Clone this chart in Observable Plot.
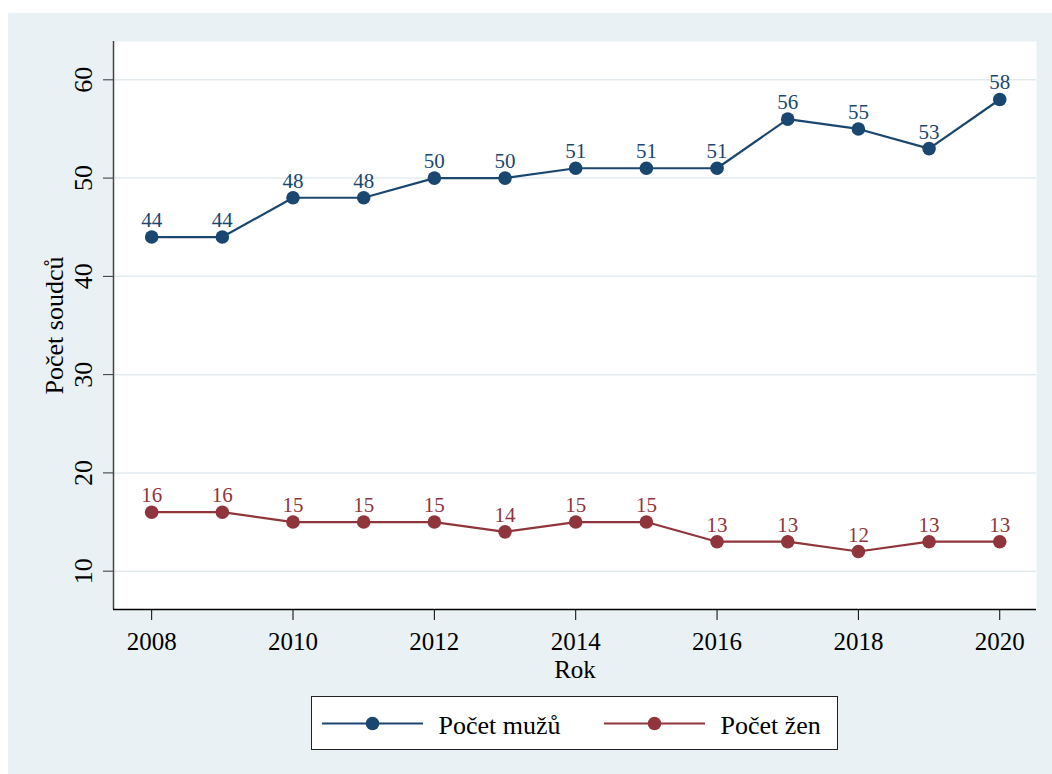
<!DOCTYPE html>
<html><head><meta charset="utf-8">
<script src="https://cdn.jsdelivr.net/npm/d3@7"></script>
<script src="https://cdn.jsdelivr.net/npm/@observablehq/plot@0.6"></script>
<style>
html,body{margin:0;padding:0;background:#fff;}
body{width:1052px;height:774px;position:relative;overflow:hidden;font-family:"Liberation Serif","Times New Roman",serif;}
#panel{position:absolute;left:8px;top:13px;width:1044px;height:761px;background:#eaf1f4;}
#chart{position:absolute;left:0;top:0;}
#legend{position:absolute;left:311px;top:696px;}
</style>
</head><body>
<div id="panel"></div>
<div id="chart"></div>
<div id="legend"></div>
<script>
const years = [2008, 2009, 2010, 2011, 2012, 2013, 2014, 2015, 2016, 2017, 2018, 2019, 2020];
const muzi = [44, 44, 48, 48, 50, 50, 51, 51, 51, 56, 55, 53, 58];
const zeny = [16, 16, 15, 15, 15, 14, 15, 15, 13, 13, 12, 13, 13];
const seriesNames = ["Počet mužů", "Počet žen"];
const seriesColors = ["#1a476f", "#90353b"];
const yTicks = [10, 20, 30, 40, 50, 60];
const xTicks = [2008, 2010, 2012, 2014, 2016, 2018, 2020];
const xDomain = [2007.46, 2020.52];
const yDomain = [6.1, 63.9];
const xLabel = "Rok";
const yLabel = "Počet soudců";

const rows = years.flatMap((year, i) => [
  {year, value: muzi[i], series: seriesNames[0]},
  {year, value: zeny[i], series: seriesNames[1]}
]);

const chart = Plot.plot({
  width: 1052, height: 692,
  marginLeft: 113, marginRight: 16, marginTop: 41, marginBottom: 83,
  style: {background: "transparent", fontFamily: "'Liberation Serif', serif", fontSize: "26px", color: "#000"},
  x: {domain: xDomain},
  y: {domain: yDomain},
  color: {domain: seriesNames, range: seriesColors},
  marks: [
    Plot.frame({fill: "white", stroke: null}),
    Plot.gridY({ticks: yTicks, stroke: "#e3ebef", strokeOpacity: 1, strokeWidth: 1.5}),
    Plot.axisY({ticks: yTicks, tickRotate: -90, tickSize: 10, tickPadding: 12, fontSize: 26,
      tickFormat: d => String(d), label: yLabel, labelAnchor: "center", labelOffset: 69, labelArrow: "none", stroke: "#333"}),
    Plot.axisX({ticks: xTicks, tickSize: 11, tickPadding: 12, fontSize: 25,
      tickFormat: d => String(d), label: xLabel, labelAnchor: "center", labelOffset: 68, labelArrow: "none", stroke: "#000"}),
    Plot.ruleX([xDomain[0]], {stroke: "#444", strokeWidth: 1.5}),
    Plot.ruleY([yDomain[0]], {stroke: "#000", strokeWidth: 1.5}),
    Plot.line(rows, {x: "year", y: "value", z: "series", stroke: "series", strokeWidth: 2.2}),
    Plot.dot(rows, {x: "year", y: "value", fill: "series", r: 6.8}),
    Plot.text(rows, {x: "year", y: "value", text: d => String(d.value), fill: "series",
      dy: -10, lineAnchor: "bottom", fontSize: 21})
  ]
});
document.getElementById("chart").appendChild(chart);

// legend
const lg = d3.select("#legend").append("svg")
  .attr("width", 527).attr("height", 54)
  .style("font-family", "'Liberation Serif', serif");
lg.append("rect").attr("x", 0.5).attr("y", 0.5).attr("width", 526).attr("height", 53)
  .attr("fill", "#fff").attr("stroke", "#222").attr("stroke-width", 1);
const offsets = [0, 282];
seriesNames.forEach((name, i) => {
  const g = lg.append("g").attr("transform", `translate(${offsets[i]},0)`);
  g.append("line").attr("x1", 11).attr("x2", 112).attr("y1", 27.5).attr("y2", 27.5)
    .attr("stroke", seriesColors[i]).attr("stroke-width", 2.2);
  g.append("circle").attr("cx", 61.5).attr("cy", 27.5).attr("r", 6.8).attr("fill", seriesColors[i]);
  g.append("text").attr("x", 127.5).attr("y", 37.5).attr("font-size", 26).attr("fill", "#000").text(name);
});
</script>
</body></html>
